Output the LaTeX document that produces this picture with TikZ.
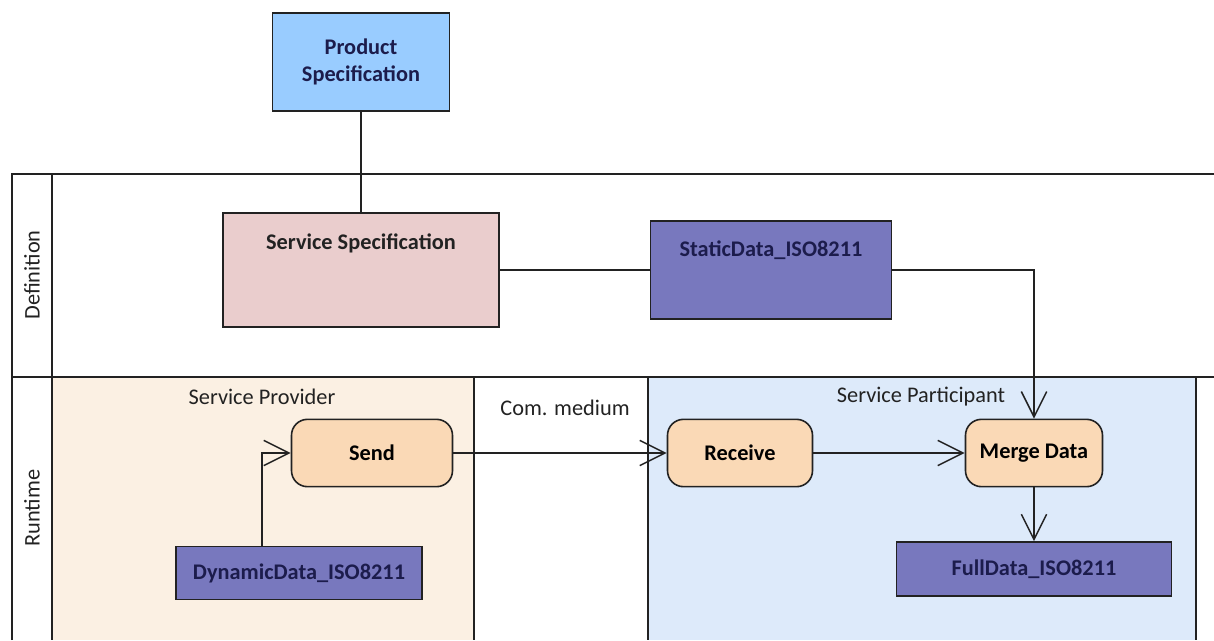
\documentclass[tikz,border=0pt]{standalone}
\usepackage{fontspec}
\setmainfont{Carlito}
\usepackage{xcolor}
\usetikzlibrary{positioning,arrows.meta}

\definecolor{prodblue}{HTML}{99CCFF}
\definecolor{specrose}{HTML}{EACDCD}
\definecolor{datapurple}{HTML}{7878BE}
\definecolor{datatext}{HTML}{1C1C4C}
\definecolor{actpeach}{HTML}{FAD9B6}
\definecolor{provbg}{HTML}{FBF0E3}
\definecolor{partbg}{HTML}{DDEAFA}
\definecolor{linegray}{HTML}{222222}

\newcommand{\diagfont}{\fontsize{16.75}{20}\selectfont}
\tikzstyle{box}=[rectangle, draw=linegray, line width=1.2pt, inner sep=0pt, font=\diagfont\bfseries]
\tikzstyle{product}=[box, fill=prodblue, text=datatext, align=center, minimum width=132.75pt, minimum height=73.5pt]
\tikzstyle{service}=[box, fill=specrose, minimum width=207pt, minimum height=85.5pt]
\tikzstyle{data}=[box, fill=datapurple, text=datatext]
\tikzstyle{activity}=[box, rounded corners=12pt, fill=actpeach, minimum height=50.5pt]
\tikzstyle{lanelabel}=[rotate=90, text=linegray, font=\diagfont]
\tikzstyle{poollabel}=[text=linegray, font=\diagfont]

\begin{document}
\begin{tikzpicture}[x=0.75pt, y=-0.75pt, line width=1.1pt, draw=linegray,
    >={Straight Barb[length=19pt,width=19pt]}]
  \useasboundingbox (0,0) rectangle (1214,640);

  % pools in the runtime lane
  \fill[provbg] (52,377) rectangle (474,640);
  \fill[partbg] (648,377) rectangle (1196,640);

  % lanes
  \draw (12,640) -- (12,174) -- (1214,174);
  \draw (52,174) -- (52,640);
  \draw (12,377) -- (1214,377);
  \draw (474,377) -- (474,640);
  \draw (648,377) -- (648,640);
  \draw (1196,377) -- (1196,640);

  \node (DefLabel) [lanelabel] at (32,275) {Definition};
  \node (RunLabel) [lanelabel] at (32,508) {Runtime};
  \node (ProvLabel) [poollabel] at (262,397) {Service Provider};
  \node (MediumLabel) [poollabel] at (565,408) {Com. medium};
  \node (PartLabel) [poollabel] at (921,397) {Service Participant};

  % definition
  \node (Product) [product] at (361,62) {Product\\Specification};
  \node (ServiceSpec) [service, label={[anchor=center, font=\diagfont\bfseries, text=linegray, yshift=-23.25pt]north:Service Specification}] at (361,270) {};
  \node (StaticData) [data, minimum width=180.75pt, minimum height=73.5pt,
    label={[anchor=center, font=\diagfont\bfseries, text=datatext, yshift=-22.5pt]north:StaticData\_ISO8211}] at (771,270) {};

  % runtime
  \node (Send) [activity, minimum width=120.75pt] at (372,453) {Send};
  \node (Receive) [activity, minimum width=108.75pt] at (740,453) {Receive};
  \node (Merge) [activity, minimum width=102.75pt] at (1034,453) {Merge Data};
  \node (DynamicData) [data, minimum width=184.5pt, minimum height=39.75pt] at (299,573) {DynamicData\_ISO8211};
  \node (FullData) [data, minimum width=206.25pt, minimum height=40.5pt] at (1034,569) {FullData\_ISO8211};

  % connectors
  \draw (Product) -- (ServiceSpec);
  \draw (ServiceSpec) -- (StaticData);
  \draw[->] (StaticData.east) -| (Merge.north);
  \draw[->] ([xshift=-27.75pt]DynamicData.north) |- (Send.west);
  \draw[->] (Send) -- (Receive);
  \draw[->] (Receive) -- (Merge);
  \draw[->] (Merge) -- (FullData);
\end{tikzpicture}
\end{document}
